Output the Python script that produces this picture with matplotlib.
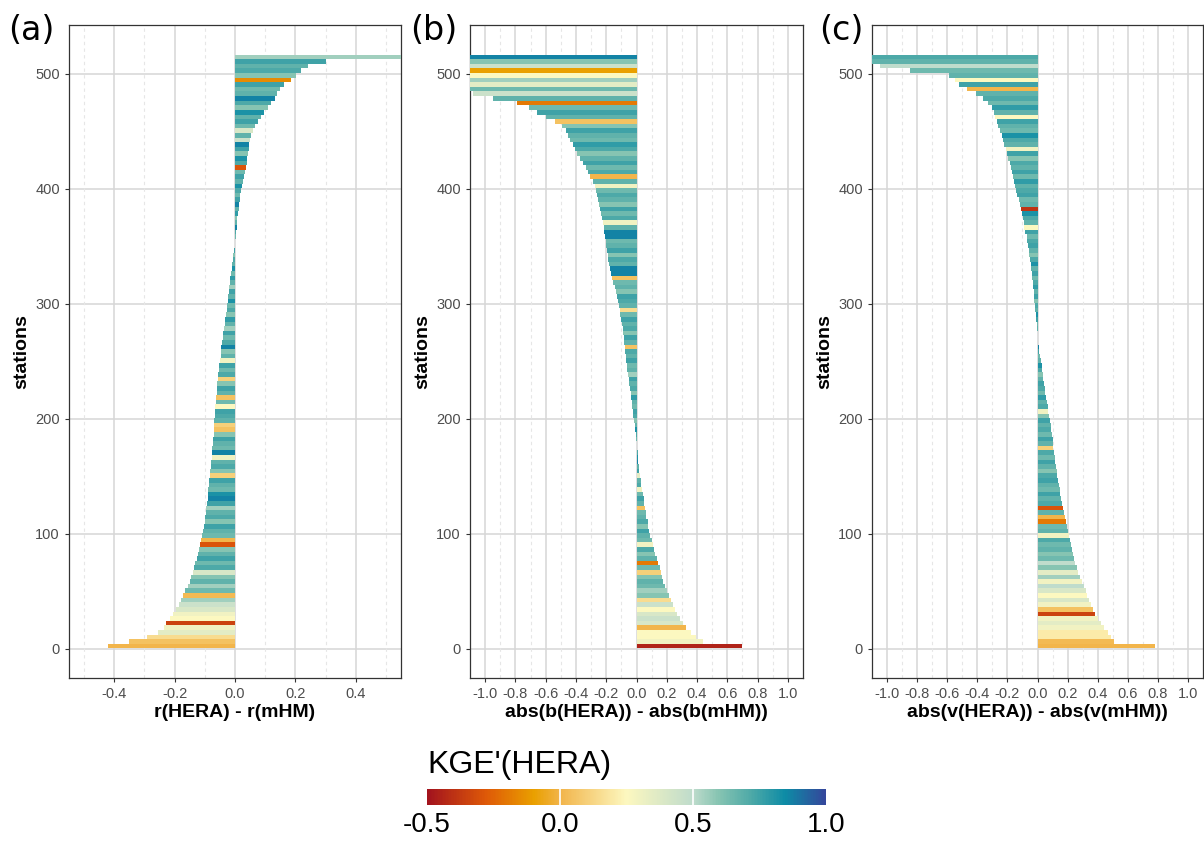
import numpy as np
import matplotlib
matplotlib.use("Agg")
from matplotlib import pyplot as plt
from matplotlib.colors import LinearSegmentedColormap, Normalize

plt.rcParams['font.family'] = ['Liberation Sans', 'DejaVu Sans']

# stations are grouped in blocks of 4 (516 stations -> 129 rows), sorted as in the paper
block = 4

# (a) r(HERA) - r(mHM)
diff_r = [
    -0.42, -0.35, -0.29, -0.255, -0.235, -0.228, -0.214, -0.204, -0.196, -0.187,
    -0.18, -0.172, -0.165, -0.156, -0.15, -0.145, -0.14, -0.135, -0.131, -0.127,
    -0.123, -0.119, -0.115, -0.112, -0.109, -0.106, -0.103, -0.101, -0.099, -0.097,
    -0.095, -0.093, -0.091, -0.089, -0.088, -0.086, -0.085, -0.083, -0.082, -0.08,
    -0.079, -0.077, -0.076, -0.075, -0.074, -0.073, -0.071, -0.07, -0.069, -0.068,
    -0.067, -0.066, -0.065, -0.063, -0.062, -0.061, -0.06, -0.059, -0.057, -0.056,
    -0.054, -0.052, -0.05, -0.048, -0.047, -0.045, -0.043, -0.041, -0.039, -0.036,
    -0.034, -0.032, -0.03, -0.028, -0.026, -0.024, -0.022, -0.021, -0.019, -0.017,
    -0.015, -0.013, -0.011, -0.009, -0.007, -0.005, -0.003, -0.001, 0.001, 0.002,
    0.004, 0.005, 0.006, 0.007, 0.01, 0.012, 0.014, 0.016, 0.018, 0.02,
    0.023, 0.027, 0.031, 0.034, 0.036, 0.039, 0.041, 0.043, 0.046, 0.048,
    0.051, 0.054, 0.06, 0.067, 0.076, 0.086, 0.097, 0.108, 0.12, 0.132,
    0.14, 0.15, 0.162, 0.184, 0.203, 0.22, 0.242, 0.3, 0.6,
]
kge_a = [
    0.0, 0.05, 0.15, 0.35, 0.3, -0.35, 0.25, 0.3, 0.4, 0.45,
    0.55, 0.02, 0.65, 0.55, 0.68, 0.6, 0.4, 0.72, 0.65, 0.75,
    0.68, 0.6, -0.3, 0.0, 0.65, 0.68, 0.75, 0.6, 0.72, 0.68,
    0.55, 0.75, 0.87, 0.82, 0.65, 0.68, 0.75, 0.1, 0.6, 0.72,
    0.68, 0.3, 0.87, 0.65, 0.68, 0.75, 0.6, 0.05, 0.1, 0.68,
    0.72, 0.75, 0.25, 0.65, 0.05, 0.68, 0.75, 0.6, 0.1, 0.72,
    0.65, 0.75, 0.3, 0.68, 0.6, 0.87, 0.72, 0.65, 0.75, 0.55,
    0.68, 0.78, 0.6, 0.72, 0.65, 0.82, 0.68, 0.75, 0.55, 0.68,
    0.78, 0.65, 0.82, 0.68, 0.72, 0.6, 0.75, 0.68, 0.82, 0.65,
    0.72, 0.87, 0.68, 0.6, 0.78, 0.68, 0.87, 0.75, 0.65, 0.72,
    0.82, 0.68, 0.75, 0.65, -0.3, 0.72, 0.82, 0.6, 0.75, 0.87,
    0.45, 0.68, 0.4, 0.65, 0.75, 0.68, 0.82, 0.6, 0.72, 0.87,
    0.68, 0.65, 0.75, -0.15, 0.6, 0.72, 0.68, 0.75, 0.55,
]

# (b) abs(b(HERA)) - abs(b(mHM))
diff_b = [
    0.7, 0.44, 0.39, 0.36, 0.33, 0.305, 0.285, 0.27, 0.255, 0.242,
    0.228, 0.215, 0.203, 0.19, 0.178, 0.17, 0.162, 0.153, 0.143, 0.134,
    0.124, 0.114, 0.107, 0.1, 0.092, 0.085, 0.079, 0.073, 0.066, 0.061,
    0.056, 0.051, 0.047, 0.042, 0.037, 0.032, 0.027, 0.023, 0.018, 0.015,
    0.012, 0.009, 0.007, 0.004, 0.001, -0.001, -0.003, -0.008, -0.013, -0.017,
    -0.021, -0.024, -0.028, -0.032, -0.035, -0.039, -0.043, -0.047, -0.051, -0.055,
    -0.06, -0.064, -0.068, -0.072, -0.075, -0.078, -0.081, -0.085, -0.088, -0.091,
    -0.095, -0.1, -0.106, -0.112, -0.118, -0.124, -0.131, -0.138, -0.145, -0.152,
    -0.159, -0.166, -0.173, -0.18, -0.185, -0.19, -0.195, -0.199, -0.203, -0.208,
    -0.213, -0.218, -0.224, -0.23, -0.236, -0.242, -0.248, -0.254, -0.26, -0.267,
    -0.276, -0.29, -0.306, -0.32, -0.336, -0.352, -0.372, -0.392, -0.408, -0.422,
    -0.437, -0.452, -0.468, -0.49, -0.54, -0.6, -0.66, -0.71, -0.79, -0.95,
    -1.08, -1.25, -1.25, -1.25, -1.25, -1.25, -1.25, -1.25, -1.25,
]
kge_b = [
    -0.45, 0.3, 0.25, 0.25, 0.0, 0.4, 0.45, 0.4, 0.25, 0.45,
    0.15, 0.6, 0.55, 0.65, 0.68, 0.6, 0.1, 0.65, -0.2, 0.68,
    0.6, 0.72, 0.3, 0.65, 0.68, 0.75, 0.6, 0.72, 0.68, 0.65,
    0.05, 0.68, 0.75, 0.65, 0.3, 0.72, 0.68, 0.35, 0.75, 0.68,
    0.87, 0.82, 0.72, 0.68, 0.75, 0.65, 0.72, 0.82, 0.68, 0.6,
    0.72, 0.75, 0.65, 0.68, 0.78, 0.6, 0.72, 0.68, 0.75, 0.55,
    0.68, 0.65, 0.75, 0.68, 0.72, 0.05, 0.68, 0.75, 0.6, 0.72,
    0.68, 0.75, 0.65, 0.15, 0.68, 0.72, 0.75, 0.6, 0.68, 0.65,
    0.05, 0.87, 0.87, 0.68, 0.72, 0.6, 0.75, 0.68, 0.65, 0.87,
    0.87, 0.68, 0.3, 0.72, 0.65, 0.75, 0.6, 0.68, 0.72, 0.65,
    0.3, 0.68, 0.0, 0.72, 0.65, 0.75, 0.68, 0.6, 0.72, 0.78,
    0.65, 0.68, 0.75, 0.6, 0.05, 0.68, 0.75, 0.65, -0.2, 0.68,
    0.45, 0.65, 0.35, 0.55, 0.25, -0.1, 0.45, 0.6, 0.87,
]

# (c) abs(v(HERA)) - abs(v(mHM))
diff_v = [
    0.78, 0.51, 0.49, 0.47, 0.445, 0.42, 0.4, 0.385, 0.372, 0.358,
    0.343, 0.33, 0.32, 0.308, 0.297, 0.285, 0.272, 0.26, 0.252, 0.245,
    0.237, 0.229, 0.224, 0.218, 0.212, 0.205, 0.198, 0.19, 0.182, 0.175,
    0.168, 0.162, 0.157, 0.152, 0.147, 0.142, 0.137, 0.132, 0.127, 0.123,
    0.119, 0.114, 0.11, 0.106, 0.103, 0.1, 0.097, 0.092, 0.087, 0.082,
    0.077, 0.073, 0.069, 0.065, 0.059, 0.053, 0.047, 0.042, 0.039, 0.035,
    0.032, 0.029, 0.023, 0.016, 0.01, 0.007, 0.004, 0.002, 0.0, -0.002,
    -0.005, -0.008, -0.011, -0.014, -0.018, -0.021, -0.024, -0.026, -0.029, -0.031,
    -0.034, -0.037, -0.04, -0.045, -0.049, -0.054, -0.058, -0.063, -0.068, -0.073,
    -0.08, -0.087, -0.093, -0.098, -0.104, -0.11, -0.118, -0.126, -0.134, -0.142,
    -0.149, -0.155, -0.161, -0.168, -0.175, -0.184, -0.193, -0.203, -0.211, -0.22,
    -0.229, -0.238, -0.25, -0.262, -0.27, -0.28, -0.29, -0.305, -0.33, -0.36,
    -0.41, -0.47, -0.52, -0.55, -0.59, -0.85, -1.05, -1.25, -1.25,
]
kge_c = [
    0.0, 0.02, 0.2, 0.2, 0.3, 0.35, 0.3, -0.35, 0.05, 0.3,
    0.4, 0.25, 0.4, 0.5, 0.3, 0.55, 0.35, 0.6, 0.5, 0.65,
    0.6, 0.68, 0.65, 0.72, 0.3, 0.68, 0.65, -0.2, 0.0, 0.68,
    -0.3, 0.72, 0.68, 0.75, 0.65, 0.68, 0.75, 0.72, 0.6, 0.68,
    0.75, 0.65, 0.72, 0.1, 0.68, 0.75, 0.65, 0.72, 0.68, 0.75,
    0.6, 0.3, 0.72, 0.68, 0.78, 0.65, 0.72, 0.75, 0.68, 0.6,
    0.72, 0.82, 0.68, 0.65, 0.75, 0.87, 0.68, 0.72, 0.78, 0.68,
    0.65, 0.75, 0.82, 0.68, 0.72, 0.6, 0.75, 0.68, 0.78, 0.72,
    0.65, 0.75, 0.68, 0.82, 0.72, 0.6, 0.68, 0.75, 0.72, 0.65,
    0.75, 0.25, 0.68, 0.72, 0.82, -0.4, 0.68, 0.65, 0.75, 0.72,
    0.68, 0.78, 0.65, 0.75, 0.68, 0.72, 0.6, 0.75, 0.3, 0.68,
    0.72, 0.82, 0.65, 0.68, 0.75, 0.25, 0.68, 0.78, 0.65, 0.72,
    0.68, 0.0, 0.75, 0.25, 0.68, 0.65, 0.5, 0.68, 0.72,
]

panel_letters = ['(a)', '(b)', '(c)']
x_labels = ['r(HERA) - r(mHM)', 'abs(b(HERA)) - abs(b(mHM))', 'abs(v(HERA)) - abs(v(mHM))']

# KGE' palette
kge_pos = [-0.5, -0.28, -0.1, 0.0, 0.25, 0.5, 0.6, 0.72, 0.85, 1.0]
kge_hex = ['#A3141E', '#DF5A08', '#EAA000', '#F2B54B', '#FDF8C0',
           '#BFDCCC', '#86C4B2', '#4FAAA8', '#0E8CA6', '#34489C']
norm = Normalize(-0.5, 1.0)
cmap = LinearSegmentedColormap.from_list(
    'kge', [((p + 0.5) / 1.5, c) for p, c in zip(kge_pos, kge_hex)])

fig = plt.figure(figsize=(12.04, 8.43), dpi=100)
W, H = 1204, 843

def px_axes(left, top, right, bottom):
    return fig.add_axes([left / W, 1 - bottom / H, (right - left) / W, (bottom - top) / H])

boxes = [(69, 25, 401, 678), (470, 25, 803, 678), (872, 25, 1203, 678)]
datasets = [(diff_r, kge_a), (diff_b, kge_b), (diff_v, kge_c)]
letter_x = [8, 410, 819]

for k, ((vals, kge), box) in enumerate(zip(datasets, boxes)):
    ax = px_axes(*box)
    vals = np.array(vals)
    ypos = np.arange(len(vals)) * block + 0.5 + block / 2
    ax.barh(ypos, vals, height=block, left=0, color=cmap(norm(np.array(kge))),
            linewidth=0, zorder=3)
    if k == 0:
        ax.set_xlim(-0.55, 0.55)
        major = np.arange(-0.4, 0.41, 0.2)
        minor = np.arange(-0.5, 0.51, 0.2)
    else:
        ax.set_xlim(-1.1, 1.1)
        major = np.arange(-1.0, 1.01, 0.2)
        minor = np.arange(-0.9, 0.91, 0.2)
    ax.set_ylim(-25.3, 542.3)
    ax.set_xticks(major)
    ax.set_xticklabels(['%.1f' % (0.0 if abs(t) < 1e-9 else t) for t in major])
    ax.set_yticks([0, 100, 200, 300, 400, 500])
    for m in minor:
        ax.axvline(m, color='#E6E6E6', lw=0.8, ls=(0, (3, 3)), zorder=1)
    ax.grid(True, which='major', color='#D6D6D6', lw=1.1, zorder=0)
    ax.set_axisbelow(True)
    for s in ax.spines.values():
        s.set_color('#333333')
        s.set_linewidth(0.9)
    ax.tick_params(colors='#333333', labelcolor='#4D4D4D', labelsize=10.5, length=3, width=0.8)
    ax.set_xlabel(x_labels[k], fontsize=14, fontweight='bold', labelpad=2)
    ax.set_ylabel('stations', fontsize=14, fontweight='bold', labelpad=4)
    fig.text(letter_x[k] / W, 1 - 30 / H, panel_letters[k], fontsize=24,
             family='DejaVu Sans', va='center', ha='left')

# colour bar legend
cax = px_axes(427, 789, 826, 805)
grad = np.linspace(-0.5, 1.0, 400).reshape(1, -1)
cax.imshow(grad, cmap=cmap, norm=norm, aspect='auto', extent=(-0.5, 1.0, 0, 1))
for t in [0.0, 0.5]:
    cax.axvline(t, color='white', lw=1.2)
cax.set_xlim(-0.5, 1.0)
cax.set_yticks([])
cax.set_xticks([-0.5, 0.0, 0.5, 1.0])
cax.set_xticklabels(['-0.5', '0.0', '0.5', '1.0'])
cax.tick_params(length=0, labelsize=20, pad=5)
for s in cax.spines.values():
    s.set_visible(False)
fig.text(427 / W, 1 - 773 / H, "KGE'(HERA)", fontsize=23, va='baseline', ha='left')

fig.savefig('out.png', dpi=100)
